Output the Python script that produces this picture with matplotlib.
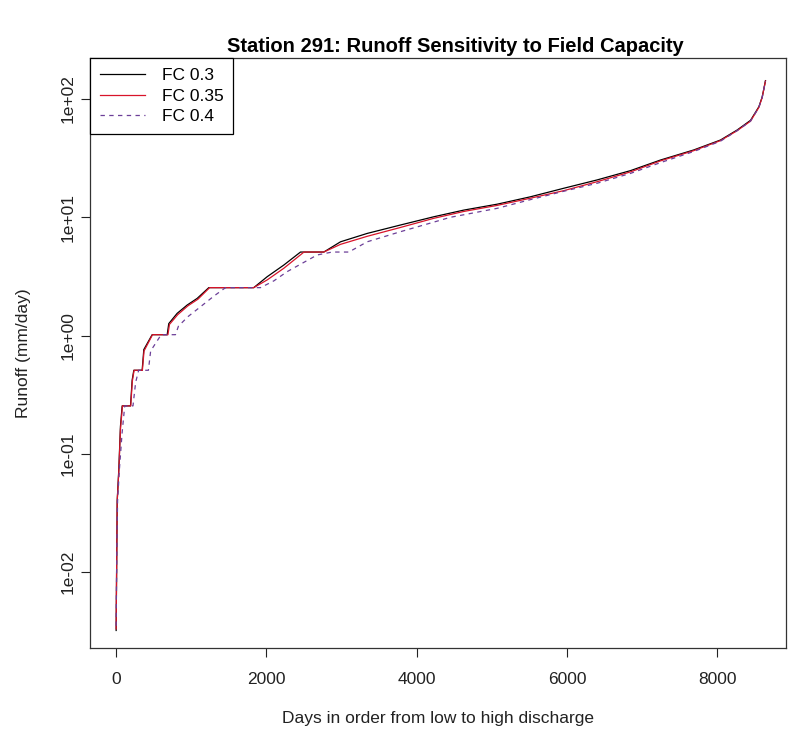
import matplotlib
matplotlib.use("Agg")
import matplotlib.pyplot as plt

plt.rcParams['font.family'] = ['Liberation Sans', 'DejaVu Sans']

# flow-duration breakpoints (day rank, runoff mm/day)
days_fc30 = [1, 3, 8, 15, 36, 58, 81, 192, 214, 236, 347, 369, 480, 680, 701, 813,
             946, 1079, 1234, 1832, 2010, 2231, 2454, 2764, 2986, 3341, 3784, 4228,
             4627, 5071, 5514, 5958, 6402, 6845, 7245, 7687, 8042, 8264, 8442, 8553,
             8597, 8641]
runoff_fc30 = [0.0032, 0.005, 0.012, 0.04, 0.073, 0.17, 0.254, 0.254, 0.42, 0.508,
               0.508, 0.76, 1.016, 1.016, 1.26, 1.54, 1.81, 2.06, 2.54, 2.54, 3.14,
               3.94, 5.08, 5.08, 6.2, 7.3, 8.6, 10.1, 11.5, 12.9, 14.9, 17.6, 20.7,
               24.8, 30.5, 37.1, 45.0, 54.7, 66.0, 86.0, 104.0, 143.0]

days_fc35 = [1, 3, 8, 15, 36, 58, 85, 195, 216, 240, 350, 372, 485, 690, 710, 820,
             955, 1090, 1245, 1832, 2010, 2231, 2500, 2764, 2986, 3341, 3784, 4228,
             4627, 5071, 5514, 5958, 6402, 6845, 7245, 7687, 8042, 8264, 8442, 8553,
             8597, 8641]
runoff_fc35 = [0.0033, 0.005, 0.012, 0.04, 0.07, 0.16, 0.254, 0.254, 0.41, 0.508,
               0.508, 0.74, 1.016, 1.016, 1.24, 1.5, 1.78, 2.03, 2.54, 2.54, 2.95,
               3.7, 5.08, 5.08, 5.9, 6.9, 8.2, 9.8, 11.2, 12.6, 14.5, 16.8, 20.0,
               24.2, 30.0, 36.6, 44.5, 54.0, 65.0, 85.0, 103.0, 142.0]

days_fc40 = [1, 4, 10, 20, 45, 80, 115, 225, 260, 300, 430, 460, 600, 790, 830, 960,
             1123, 1300, 1456, 1922, 2100, 2277, 2676, 2876, 3097, 3341, 3784, 4228,
             4450, 4627, 5071, 5514, 5958, 6402, 6845, 7245, 7687, 8042, 8264, 8442,
             8553, 8597, 8641]
runoff_fc40 = [0.0035, 0.006, 0.015, 0.04, 0.075, 0.15, 0.254, 0.254, 0.40, 0.508,
               0.508, 0.74, 1.016, 1.016, 1.2, 1.45, 1.75, 2.15, 2.54, 2.54, 2.9,
               3.47, 4.8, 5.08, 5.08, 6.2, 7.55, 9.1, 10.0, 10.5, 11.9, 14.1, 16.6,
               19.4, 23.5, 29.0, 36.0, 44.0, 54.0, 65.0, 85.0, 103.0, 142.0]

labels = ["FC 0.3", "FC 0.35", "FC 0.4"]
x_ticks = [0, 2000, 4000, 6000, 8000]
y_ticks = [1e-2, 1e-1, 1e0, 1e1, 1e2]
y_tick_labels = ["1e-02", "1e-01", "1e+00", "1e+01", "1e+02"]

fs = 12.5
fig = plt.figure(figsize=(7.88, 7.36), dpi=100)
W, H = 788, 736
left, right, top, bottom = 90, 786, 58, 648
ax = fig.add_axes([left / W, (H - bottom) / H, (right - left) / W, (bottom - top) / H])

ax.plot(days_fc30, runoff_fc30, color="black", lw=0.9, label=labels[0])
ax.plot(days_fc35, runoff_fc35, color="#d8142a", lw=0.9, label=labels[1])
ax.plot(days_fc40, runoff_fc40, color="#6c3f98", lw=0.9, dashes=(3.5, 3.5), label=labels[2])

ax.set_yscale("log")
ax.set_xlim(-347, 8914)
ax.set_ylim(10 ** -2.643, 10 ** 2.347)

ax.set_xticks(x_ticks)
ax.set_xticklabels([str(t) for t in x_ticks])
ax.set_yticks(y_ticks)
ax.set_yticklabels(y_tick_labels, rotation=90, va="center")
ax.minorticks_off()
ax.tick_params(axis="both", direction="out", length=6.5, width=0.8, labelsize=fs,
               colors="#222222")
ax.tick_params(axis="x", pad=11)
ax.tick_params(axis="y", pad=4)
for s in ax.spines.values():
    s.set_color("#333333")
    s.set_linewidth(0.9)

ax.set_xlabel("Days in order from low to high discharge", fontsize=fs, color="#222222")
ax.xaxis.set_label_coords(0.5, -71 / 590)
ax.xaxis.label.set_va("center")
ax.set_ylabel("Runoff (mm/day)", fontsize=fs, color="#222222")
ax.yaxis.set_label_coords(-66 / 696, 0.5)
ax.yaxis.label.set_va("center")

fig.text(455 / W, 1 - 47 / H, "Station 291: Runoff Sensitivity to Field Capacity",
         ha="center", va="center", fontsize=14.5, fontweight="bold")

leg = ax.legend(loc="upper left", bbox_to_anchor=(0, 1), borderaxespad=0,
                fancybox=False, framealpha=1, edgecolor="black", fontsize=fs,
                handlelength=2.6, handletextpad=1.0, labelspacing=0.33, borderpad=0.55)
leg.get_frame().set_linewidth(0.9)

fig.savefig("out.png", dpi=100)
